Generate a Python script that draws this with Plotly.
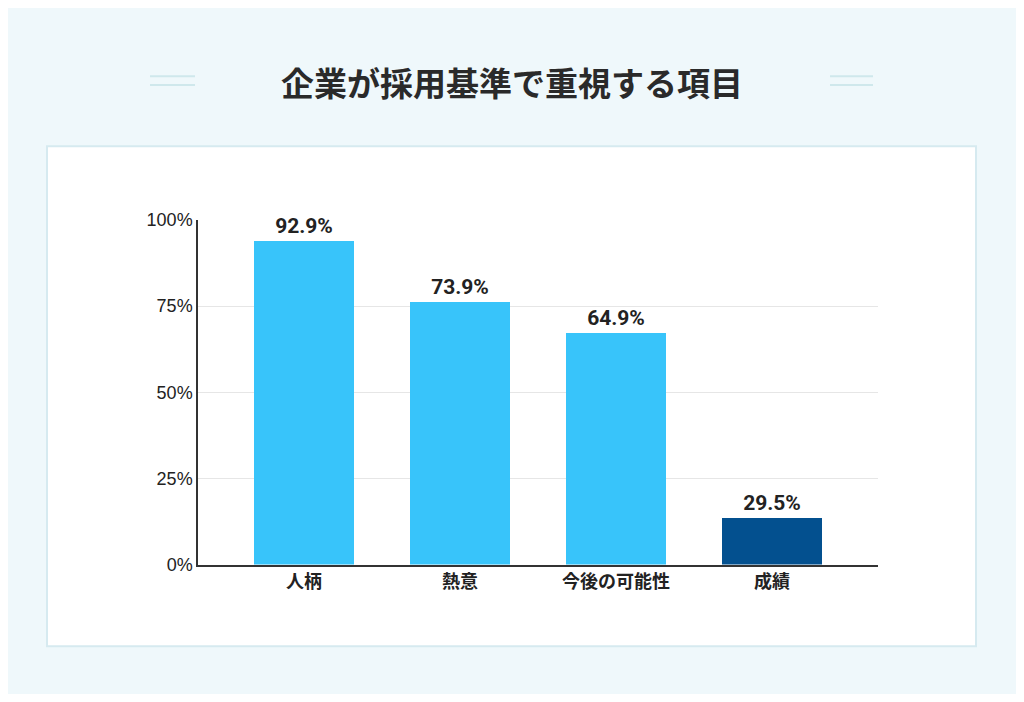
import plotly.graph_objects as go

categories = ["人柄", "熱意", "今後の可能性", "成績"]
bar_heights = [93.8, 76.3, 67.3, 13.5]
value_labels = ["92.9%", "73.9%", "64.9%", "29.5%"]
bar_colors = ["#38c4fa", "#38c4fa", "#38c4fa", "#03508f"]
tick_vals = [0, 25, 50, 75, 100]
tick_text = ["0%", "25%", "50%", "75%", "100%"]

# page body has an 8px margin, so the figure is drawn 16px smaller
W, H = 1008, 686
OFF = 8
def px(x): return (x - OFF) / W
def py_(y): return 1 - (y - OFF) / H

fig = go.Figure(go.Bar(
    x=list(range(len(categories))), y=bar_heights, width=0.64,
    marker=dict(color=bar_colors, line=dict(width=0), cornerradius=2),
    text=value_labels, textposition="outside", cliponaxis=False,
    textfont=dict(family="Roboto, Noto Sans", size=21, color="#222"),
    texttemplate="<b>%{text}</b>",
))

shapes = [dict(type="rect", xref="paper", yref="paper",
               x0=px(47), x1=px(976), y0=py_(655), y1=py_(140),
               fillcolor="white", line=dict(color="#d6eaf0", width=2), layer="below")]
for y in (68, 77):
    for a, b in ((150, 195), (830, 873)):
        shapes.append(dict(type="line", xref="paper", yref="paper",
                           x0=px(a), x1=px(b), y0=py_(y), y1=py_(y),
                           line=dict(color="#cfe8ec", width=2)))

fig.update_layout(
    width=W, height=H, margin=dict(l=0, r=0, t=0, b=0),
    paper_bgcolor="#eff8fb", plot_bgcolor="rgba(0,0,0,0)",
    showlegend=False, shapes=shapes, bargap=0,
    annotations=[dict(text="<b>企業が採用基準で重視する項目</b>", x=px(512), y=py_(74),
                      xref="paper", yref="paper", showarrow=False,
                      xanchor="center", yanchor="middle",
                      font=dict(family="Noto Sans CJK JP", size=33, color="#2a2a2a"))],
    xaxis=dict(domain=[px(198), px(878)], range=[-0.68, 3.68],
               tickvals=list(range(len(categories))),
               ticktext=["<b>%s</b>" % c for c in categories],
               tickfont=dict(family="Noto Sans CJK JP", size=18, color="#222"),
               showline=True, linecolor="#333", linewidth=1.5, showgrid=False, ticks=""),
    yaxis=dict(domain=[py_(571), py_(216)], range=[0, 100],
               tickvals=tick_vals, ticktext=tick_text,
               tickfont=dict(family="Liberation Sans, Arial", size=18, color="#222"),
               showline=True, linecolor="#333", linewidth=1.5,
               gridcolor="#e6e6e6", zeroline=False, ticks=""),
)
fig.write_html("out.html")
